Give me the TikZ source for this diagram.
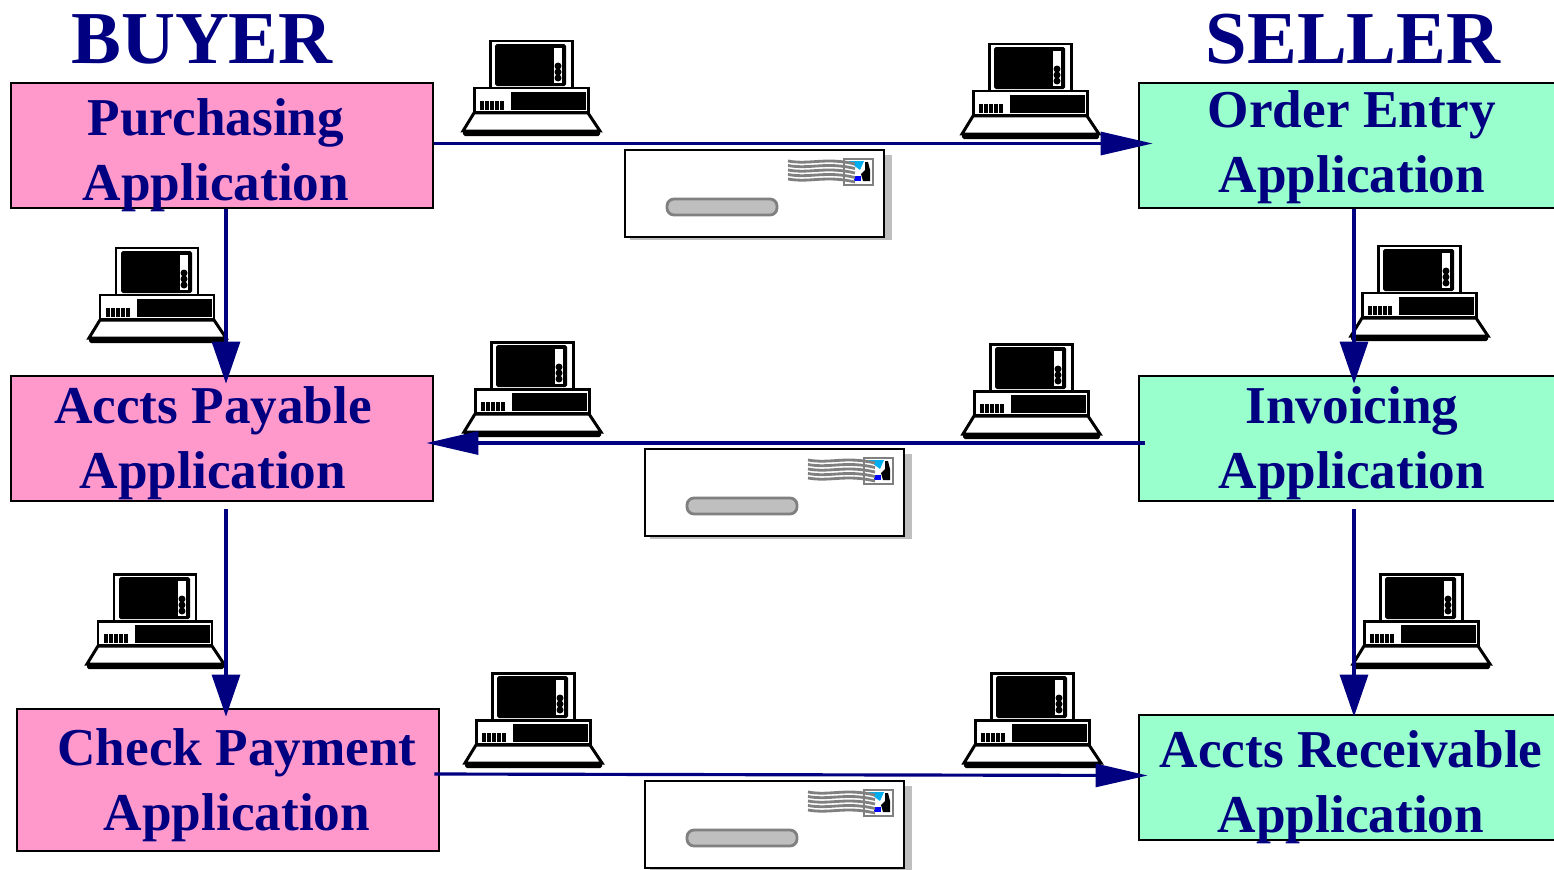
\documentclass[tikz,border=0pt]{standalone}
\usepackage{xcolor}
\usepackage{fontspec}
\setmainfont{Liberation Serif}
\usetikzlibrary{arrows.meta}
\definecolor{buyerpink}{HTML}{FF99CC}
\definecolor{sellergreen}{HTML}{99FFCC}
\definecolor{flowblue}{HTML}{000080}
\tikzset{
   appbox/.style={draw=black, line width=1.6pt, minimum width=8.44cm, minimum height=2.5cm},
   applabel/.style={color=flowblue, font=\bfseries\fontsize{30.3}{36.8}\selectfont, align=center},
   sidelabel/.style={color=flowblue, font=\bfseries\fontsize{42.5}{50}\selectfont, anchor=base},
   flowh/.style={color=flowblue, line width=1.8pt, -{Triangle[length=1.04cm, width=0.46cm]}},
   flowv/.style={color=flowblue, line width=1.8pt, -{Triangle[length=0.84cm, width=0.56cm]}},
   pics/computer/.style={code={
      \draw[fill=white, line width=1.7pt] (0, 0) rectangle (82, 47);
      \fill[rounded corners=1pt] (5, 3) rectangle (76, 45);
      \fill[white] (64, 7) rectangle (72, 42);
      \fill (68, 25) circle (3.5);
      \fill (68, 31) circle (3.5);
      \fill (68, 37) circle (3.5);
      \draw[fill=white, line width=1.7pt] (-16, 47) rectangle (98, 71);
      \fill (21, 51) rectangle (96, 69);
      \foreach \slot in {-10, -5, 0, 5, 10} {
         \fill (\slot, 60) rectangle ++(3.6, 9);
      }
      \draw[fill=white, line width=1.7pt] (-16, 72) -- (98, 72) -- (110, 90) -- (-27, 90) -- cycle;
      \fill[rounded corners=1pt] (-27, 89) rectangle (110, 95);
   }},
   pics/envelope/.style={code={
      \fill[color=black!25] (5, 5) rectangle (267, 90);
      \draw[fill=white, line width=1.5pt] (0, 0) rectangle (259, 87);
      \draw[color=black!50, fill=black!25, line width=1.6pt, rounded corners=4pt] (42, 49) rectangle (152, 65);
      \draw[color=black!50, fill=white, line width=1.6pt] (219, 9) rectangle (248, 35);
      \fill[color=cyan] (223, 11) -- (239, 11) -- (235, 20) -- cycle;
      \fill[color=blue] (229, 31) rectangle (236, 26);
      \fill (238, 31) -- (236, 24) -- (240, 20) -- (240, 12) -- (243, 12) -- (245, 20) -- (245, 31) -- cycle;
      \foreach \wave in {11, 15.5, 20, 24.5, 29} {
         \draw[color=black!50, line width=1.6pt] (163, \wave) .. controls (185, \wave + 4) and (200, \wave - 4) .. (230, \wave + 3);
      }
   }}
}
\begin{document}
\begin{tikzpicture}[x=0.02cm, y=-0.02cm]
   \path[use as bounding box, clip] (0, 0) rectangle (1554, 869);
   % buyer side
   \node[appbox, fill=buyerpink] (Purchasing) at (222, 145.5) {};
   \node[appbox, fill=buyerpink] (Payable) at (222, 438.5) {};
   \node[appbox, fill=buyerpink, minimum height=2.84cm] (Check) at (228, 780) {};
   % seller side
   \node[appbox, fill=sellergreen] (Order) at (1350, 145.5) {};
   \node[appbox, fill=sellergreen] (Invoicing) at (1350, 438.5) {};
   \node[appbox, fill=sellergreen] (Receivable) at (1350, 777.5) {};

   \node[sidelabel] (Buyer) at (202, 63) {BUYER};
   \node[sidelabel] (Seller) at (1353, 63) {SELLER};
   \node[applabel] (PurchasingText) at (216, 155) {Purchasing\\Application};
   \node[applabel] (PayableText) at (213, 443) {Accts Payable\\Application};
   \node[applabel] (CheckText) at (237, 785) {Check Payment\\Application};
   \node[applabel] (OrderText) at (1352, 147) {Order Entry\\Application};
   \node[applabel] (InvoicingText) at (1352, 443) {Invoicing\\Application};
   \node[applabel] (ReceivableText) at (1351, 787) {Accts Receivable\\Application};

   % envelopes and computers
   \pic (Envelope1) at (625, 150) {envelope};
   \pic (Envelope2) at (645, 449) {envelope};
   \pic (Envelope3) at (645, 781) {envelope};
   \pic (Computer1) at (490, 41) {computer};
   \pic (Computer2) at (989, 44) {computer};
   \pic (Computer3) at (116, 248) {computer};
   \pic (Computer4) at (1378, 246) {computer};
   \pic (Computer5) at (491, 342) {computer};
   \pic (Computer6) at (990, 344) {computer};
   \pic (Computer7) at (114, 574) {computer};
   \pic (Computer8) at (1380, 574) {computer};
   \pic (Computer9) at (492, 673) {computer};
   \pic (Computer10) at (991, 673) {computer};

   % document flow
   \draw[flowh] (Purchasing.east |- 0, 143.5) to ([shift={(15, 0)}]Order.west |- 0, 143.5);
   \draw[flowh] ([shift={(7, 0)}]Invoicing.west |- 0, 443) to ([shift={(-8, 0)}]Payable.east |- 0, 443);
   \draw[flowh] ([shift={(-6, -6)}]Check.east) to ([shift={(10, -2)}]Receivable.west);
   \draw[flowv] ([shift={(4, 0)}]Purchasing.south) to ([shift={(4, 9)}]Payable.north);
   \draw[flowv] ([shift={(4, 7)}]Payable.south) to ([shift={(-2, 9)}]Check.north);
   \draw[flowv] ([shift={(4, 0)}]Order.south) to ([shift={(4, 9)}]Invoicing.north);
   \draw[flowv] ([shift={(4, 7)}]Invoicing.south) to ([shift={(4, 3)}]Receivable.north);
\end{tikzpicture}
\end{document}
